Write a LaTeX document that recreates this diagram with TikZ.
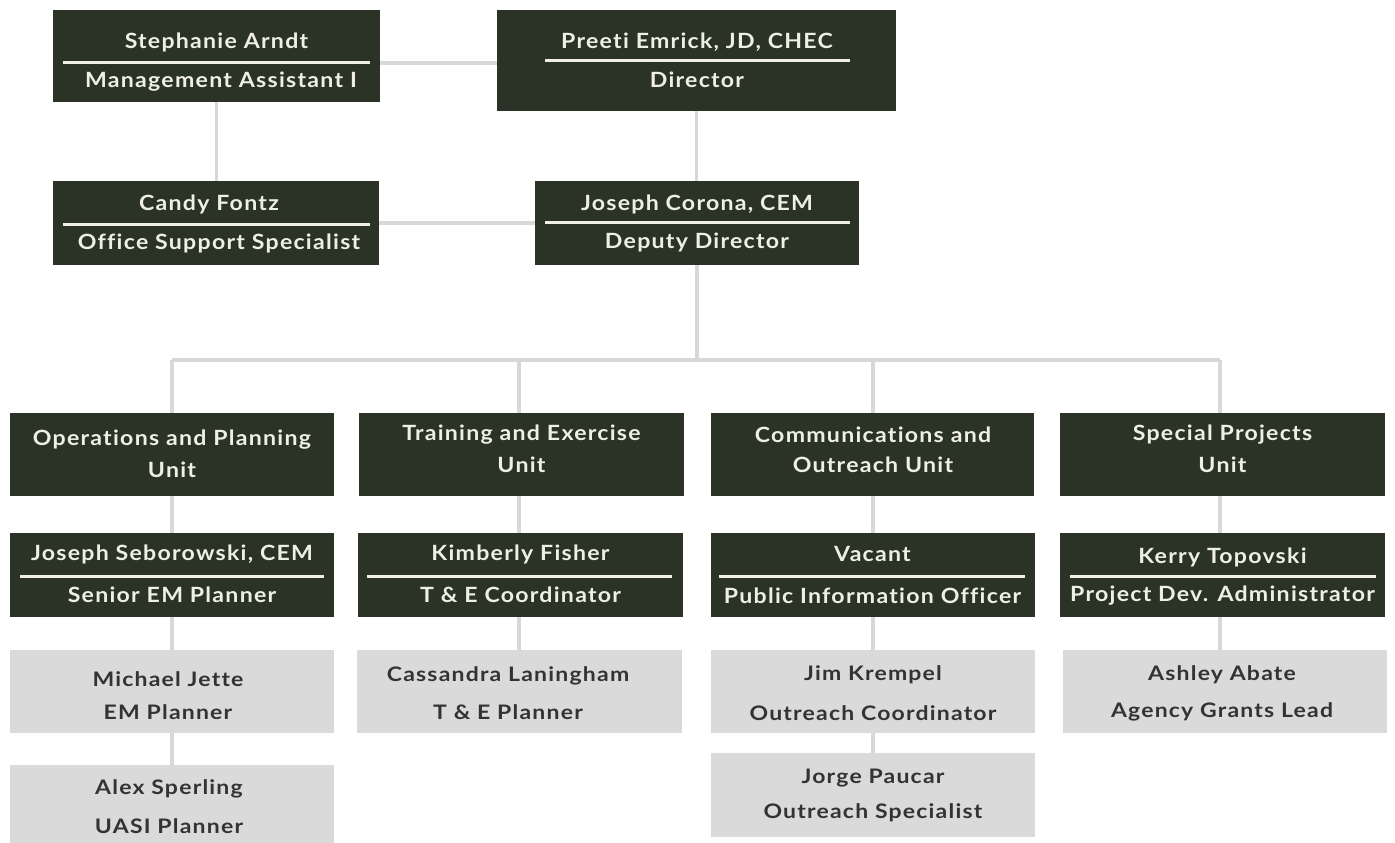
\documentclass[tikz,border=0pt]{standalone}
\usepackage{fontspec}
\newfontfamily\darkfont{Lato}[LetterSpace=6, FakeStretch=1.1, Ligatures=CommonOff]
\newfontfamily\grayfont{Lato}[LetterSpace=6, FakeStretch=1.15, Ligatures=CommonOff]
\usetikzlibrary{backgrounds}
\definecolor{dkgreen}{HTML}{2A3326}
\definecolor{lightline}{HTML}{D8D8D8}
\definecolor{graybox}{HTML}{DADADA}
\definecolor{paletxt}{HTML}{EFEFE6}
\definecolor{graytxt}{HTML}{333333}
\tikzset{
  dbox/.style={fill=dkgreen, draw=none, inner sep=0pt},
  gbox/.style={fill=graybox, draw=none, inner sep=0pt},
  dtxt/.style={text=paletxt, font=\darkfont\bfseries\fontsize{21}{24}\selectfont, inner sep=0pt, anchor=center},
  gtxt/.style={text=graytxt, font=\grayfont\bfseries\fontsize{20}{23}\selectfont, inner sep=0pt, anchor=center},
  rule/.style={draw=paletxt, line width=3pt},
  conn/.style={draw=lightline, line width=3.2pt},
}
\begin{document}
\begin{tikzpicture}[x=1pt,y=-1pt]
\useasboundingbox (0,0) rectangle (1395,843);
% top level
\node[dbox, minimum width=327pt, minimum height=92pt] (sa) at (216.5,56) {};
\node[dtxt] (saN) at (216.5,42) {Stephanie Arndt};
\node[dtxt] (saT) at (221,82) {Management Assistant I};
\draw[rule] (63,63) -- (370,63);

\node[dbox, minimum width=399pt, minimum height=101pt] (pe) at (696.5,60.5) {};
\node[dtxt] (peN) at (697,42) {Preeti Emrick, JD, CHEC};
\node[dtxt] (peT) at (697,80) {Director};
\draw[rule] (545,61) -- (850,61);

\node[dbox, minimum width=326pt, minimum height=84pt] (cf) at (216,223) {};
\node[dtxt] (cfN) at (209,204) {Candy Fontz};
\node[dtxt] (cfT) at (219,243) {Office Support Specialist};
\draw[rule] (63,224) -- (370,224);

\node[dbox, minimum width=324pt, minimum height=84pt] (jc) at (697,223) {};
\node[dtxt] (jcN) at (697,204) {Joseph Corona, CEM};
\node[dtxt] (jcT) at (697,242) {Deputy Director};
\draw[rule] (545,222) -- (850,222);

% units
\node[dbox, minimum width=324pt, minimum height=83pt] (op) at (172,454.5) {};
\node[dtxt] (opA) at (172,440) {Operations and Planning};
\node[dtxt] (opB) at (172,470) {Unit};
\node[dbox, minimum width=325pt, minimum height=83pt] (te) at (521.5,454.5) {};
\node[dtxt] (teA) at (521.5,435) {Training and Exercise};
\node[dtxt] (teB) at (521.5,465) {Unit};
\node[dbox, minimum width=323pt, minimum height=83pt] (co) at (872.5,454.5) {};
\node[dtxt] (coA) at (873,435) {Communications and};
\node[dtxt] (coB) at (873,465) {Outreach Unit};
\node[dbox, minimum width=325pt, minimum height=83pt] (sp) at (1222.5,454.5) {};
\node[dtxt] (spA) at (1222.5,435) {Special Projects};
\node[dtxt] (spB) at (1222.5,465) {Unit};

% supervisors
\node[dbox, minimum width=324pt, minimum height=84pt] (js) at (172,575) {};
\node[dtxt] (jsN) at (172,554) {Joseph Seborowski, CEM};
\node[dtxt] (jsT) at (172,595) {Senior EM Planner};
\draw[rule] (20,576) -- (324,576);
\node[dbox, minimum width=325pt, minimum height=84pt] (kf) at (520.5,575) {};
\node[dtxt] (kfN) at (520.5,554) {Kimberly Fisher};
\node[dtxt] (kfT) at (520.5,595) {T \& E Coordinator};
\draw[rule] (367,576) -- (672,576);
\node[dbox, minimum width=324pt, minimum height=84pt] (va) at (872.5,575) {};
\node[dtxt] (vaN) at (872.5,554) {Vacant};
\node[dtxt] (vaT) at (872.5,596) {Public Information Officer};
\draw[rule] (719,576) -- (1025,576);
\node[dbox, minimum width=325pt, minimum height=84pt] (kt) at (1222.5,575) {};
\node[dtxt] (ktN) at (1222.5,557) {Kerry Topovski};
\node[dtxt] (ktT) at (1222.5,596) {Project Dev. Administrator};
\draw[rule] (1070,576) -- (1376,576);

% staff
\node[gbox, minimum width=324pt, minimum height=83pt] (mj) at (172,691.5) {};
\node[gtxt] (mjN) at (168,679) {Michael Jette};
\node[gtxt] (mjT) at (168,712) {EM Planner};
\node[gbox, minimum width=325pt, minimum height=83pt] (cl) at (519.5,691.5) {};
\node[gtxt] (clN) at (508,676) {Cassandra Laningham};
\node[gtxt] (clT) at (508,712) {T \& E Planner};
\node[gbox, minimum width=324pt, minimum height=83pt] (jk) at (873,691.5) {};
\node[gtxt] (jkN) at (873,675) {Jim Krempel};
\node[gtxt] (jkT) at (873,713) {Outreach Coordinator};
\node[gbox, minimum width=324pt, minimum height=83pt] (aa) at (1225,691.5) {};
\node[gtxt] (aaN) at (1222,675) {Ashley Abate};
\node[gtxt] (aaT) at (1222,712) {Agency Grants Lead};
\node[gbox, minimum width=324pt, minimum height=80pt] (as) at (172,805) {};
\node[gtxt] (asN) at (169,789) {Alex Sperling};
\node[gtxt] (asT) at (169,826) {UASI Planner};
\node[gbox, minimum width=324pt, minimum height=84pt] (jp) at (873,795) {};
\node[gtxt] (jpN) at (873,778) {Jorge Paucar};
\node[gtxt] (jpT) at (873,813) {Outreach Specialist};

\coordinate (bus) at (696,360);
\coordinate (opx) at (172,0);
\coordinate (tex) at (519,0);
\coordinate (cox) at (873,0);
\coordinate (spx) at (1220,0);
\begin{scope}[on background layer]
\draw[conn] (sa.east |- 0,63) -- (pe.west |- 0,63);
\draw[conn] (sa.south) -- (sa.south |- cf.north);
\draw[conn] (pe.south) -- (pe.south |- jc.north);
\draw[conn] (cf.east) -- (jc.west);
\draw[conn] (jc.south) -- (jc.south |- bus);
\draw[conn] (opx |- bus) -- (spx |- bus);
\draw[conn] (opx |- bus) -- (opx |- op.north);
\draw[conn] (tex |- bus) -- (tex |- te.north);
\draw[conn] (cox |- bus) -- (cox |- co.north);
\draw[conn] (spx |- bus) -- (spx |- sp.north);
\draw[conn] (opx |- op.south) -- (opx |- js.north);
\draw[conn] (tex |- te.south) -- (tex |- kf.north);
\draw[conn] (cox |- co.south) -- (cox |- va.north);
\draw[conn] (spx |- sp.south) -- (spx |- kt.north);
\draw[conn] (opx |- js.south) -- (opx |- mj.north);
\draw[conn] (tex |- kf.south) -- (tex |- cl.north);
\draw[conn] (cox |- va.south) -- (cox |- jk.north);
\draw[conn] (spx |- kt.south) -- (spx |- aa.north);
\draw[conn] (opx |- mj.south) -- (opx |- as.north);
\draw[conn] (cox |- jk.south) -- (cox |- jp.north);
\end{scope}
\end{tikzpicture}
\end{document}
